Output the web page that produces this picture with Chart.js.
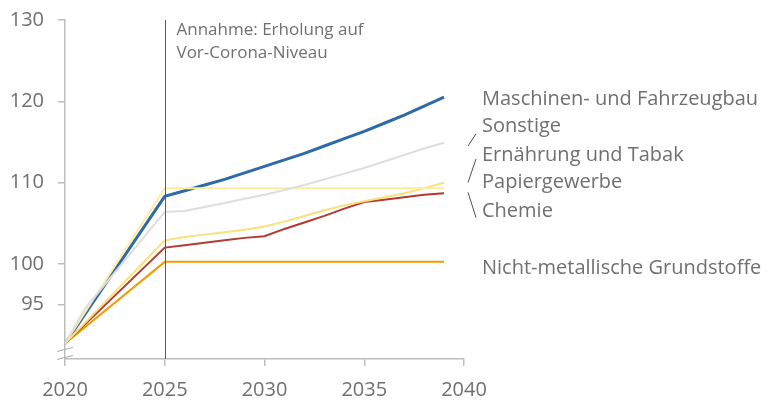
<!DOCTYPE html>
<html lang="de">
<head>
<meta charset="utf-8">
<script src="https://cdn.jsdelivr.net/npm/chart.js@4/dist/chart.umd.min.js"></script>
<style>
  html, body { margin: 0; padding: 0; background: #fff; }
  #wrap { width: 770px; height: 403px; }
</style>
</head>
<body>
<div id="wrap"><canvas id="grafik"></canvas></div>
<script>
// Jahre (x-Achse)
const jahre = [2020, 2021, 2022, 2023, 2024, 2025, 2026, 2027, 2028, 2029,
               2030, 2031, 2032, 2033, 2034, 2035, 2036, 2037, 2038, 2039];

// Index-Werte je Branche (null = nicht abgelesen, Linie wird durchgezogen)
const maschinen = [90.2, null, null, null, null, 108.3, 109.0, 109.7, 110.4, 111.2,
                   112.0, 112.8, 113.6, 114.5, 115.4, 116.3, 117.3, 118.3, 119.4, 120.5];
const sonstige = [90.2, 94.5, null, null, null, 106.4, 106.5, 107.0, 107.5, 108.0,
                  108.5, 109.1, 109.7, 110.4, 111.1, 111.8, 112.6, 113.4, 114.2, 114.9];
const ernaehrung = [90.2, null, null, null, null, 102.9, 103.3, 103.6, 103.9, 104.2,
                    104.6, 105.2, 105.9, 106.6, 107.2, 107.7, 108.2, 108.7, 109.3, 110.0];
const papier = [90.2, null, null, null, null, 109.3, 109.3, 109.3, 109.3, 109.3,
                109.3, 109.3, 109.3, 109.3, 109.3, 109.3, 109.3, 109.3, 109.3, 109.3];
const chemie = [90.2, null, null, null, null, 102.0, 102.3, 102.6, 102.9, 103.2,
                103.4, 104.3, 105.1, 105.9, 106.8, 107.6, 107.9, 108.2, 108.5, 108.7];
const nichtMetall = [90.2, null, null, null, null, 100.25, 100.25, 100.25, 100.25, 100.25,
                     100.25, 100.25, 100.25, 100.25, 100.25, 100.25, 100.25, 100.25, 100.25, 100.25];

// Achsen-Ticks
const xTicks = [2020, 2025, 2030, 2035, 2040];
const yTicks = [95, 100, 110, 120, 130];

// Beschriftungen rechts (Grundlinie in Achsenwerten)
const labels = ['Maschinen- und Fahrzeugbau', 'Sonstige', 'Ernährung und Tabak',
                'Papiergewerbe', 'Chemie', 'Nicht-metallische Grundstoffe'];
const labelY = [119.6, 116.2, 112.6, 109.3, 105.8, 98.7];
// Verbindungsstriche: [y am Linienende, y am Text]
const striche = [[114.5, 116.0], [110.0, 112.9], [108.8, 105.7]];

const annahme = ['Annahme: Erholung auf', 'Vor-Corona-Niveau'];

const textFarbe = '#707070';
const schrift = '"Open Sans", "Noto Sans", sans-serif';

function punkte(werte) {
  return jahre.map((j, i) => ({ x: j, y: werte[i] }));
}

function reihe(werte, farbe, breite) {
  return {
    data: punkte(werte),
    borderColor: farbe,
    borderWidth: breite,
    pointRadius: 0,
    fill: false,
    tension: 0,
    spanGaps: true
  };
}

const extras = {
  id: 'extras',
  afterDatasetsDraw(chart) {
    const { ctx, chartArea, scales } = chart;
    const x = scales.x, y = scales.y;
    ctx.save();

    // senkrechte Linie 2025
    const x25 = Math.round(x.getPixelForValue(2025)) + 0.5;
    ctx.strokeStyle = '#5a5a5a';
    ctx.lineWidth = 1;
    ctx.beginPath();
    ctx.moveTo(x25, chartArea.top);
    ctx.lineTo(x25, chartArea.bottom);
    ctx.stroke();

    // Annahme-Text
    ctx.fillStyle = textFarbe;
    ctx.font = '17px ' + schrift;
    ctx.textBaseline = 'middle';
    ctx.textAlign = 'left';
    ctx.fillText(annahme[0], x25 + 11, chartArea.top + 10);
    ctx.fillText(annahme[1], x25 + 11, chartArea.top + 33);

    // Achsenbruch
    const l = chartArea.left, b = chartArea.bottom;
    ctx.strokeStyle = '#b0b0b0';
    ctx.lineWidth = 1.2;
    ctx.beginPath();
    ctx.moveTo(l - 8, b - 7.5); ctx.lineTo(l + 8, b - 11.5);
    ctx.moveTo(l - 8, b + 0.5); ctx.lineTo(l + 8, b - 3.5);
    ctx.stroke();

    // Beschriftungen
    const r = chartArea.right;
    ctx.font = '20px ' + schrift;
    ctx.fillStyle = textFarbe;
    ctx.textBaseline = 'alphabetic';
    labels.forEach((t, i) => {
      ctx.fillText(t, r + 18, y.getPixelForValue(labelY[i]));
    });

    ctx.strokeStyle = '#505050';
    ctx.lineWidth = 1;
    ctx.beginPath();
    striche.forEach(s => {
      ctx.moveTo(r + 4, y.getPixelForValue(s[0]));
      ctx.lineTo(r + 12, y.getPixelForValue(s[1]));
    });
    ctx.stroke();
    ctx.restore();
  }
};

new Chart(document.getElementById('grafik').getContext('2d'), {
  type: 'line',
  data: {
    datasets: [
      reihe(sonstige, '#dedede', 2),
      reihe(papier, '#fdeda2', 2),
      reihe(ernaehrung, '#fbe07a', 2),
      reihe(chemie, '#b23a32', 2),
      reihe(nichtMetall, '#f39a00', 2),
      reihe(maschinen, '#2f6aa8', 3)
    ]
  },
  options: {
    responsive: true,
    maintainAspectRatio: false,
    animation: false,
    layout: { padding: { top: 20, right: 306, left: 0, bottom: 0 } },
    plugins: { legend: { display: false }, tooltip: { enabled: false } },
    scales: {
      x: {
        type: 'linear',
        min: 2020,
        max: 2040,
        afterBuildTicks: s => { s.ticks = xTicks.map(v => ({ value: v })); },
        afterFit: s => { s.height = 44; },
        grid: { drawOnChartArea: false, drawTicks: true, tickLength: 7, color: '#bdbdbd', lineWidth: 1.5 },
        border: { color: '#bdbdbd', width: 1.5 },
        ticks: { color: textFarbe, font: { family: schrift, size: 20 }, padding: 12, maxRotation: 0,
                 callback: v => String(v) }
      },
      y: {
        min: 88.3,
        max: 130,
        afterBuildTicks: s => { s.ticks = yTicks.map(v => ({ value: v })); },
        afterFit: s => { s.width = 65; s.paddingTop = 0; s.paddingBottom = 0; },
        grid: { drawOnChartArea: false, drawTicks: true, tickLength: 7, color: '#bdbdbd', lineWidth: 1.5 },
        border: { color: '#bdbdbd', width: 1.5 },
        ticks: { color: textFarbe, font: { family: schrift, size: 20 }, padding: 14 }
      }
    }
  },
  plugins: [extras]
});
</script>
</body>
</html>
